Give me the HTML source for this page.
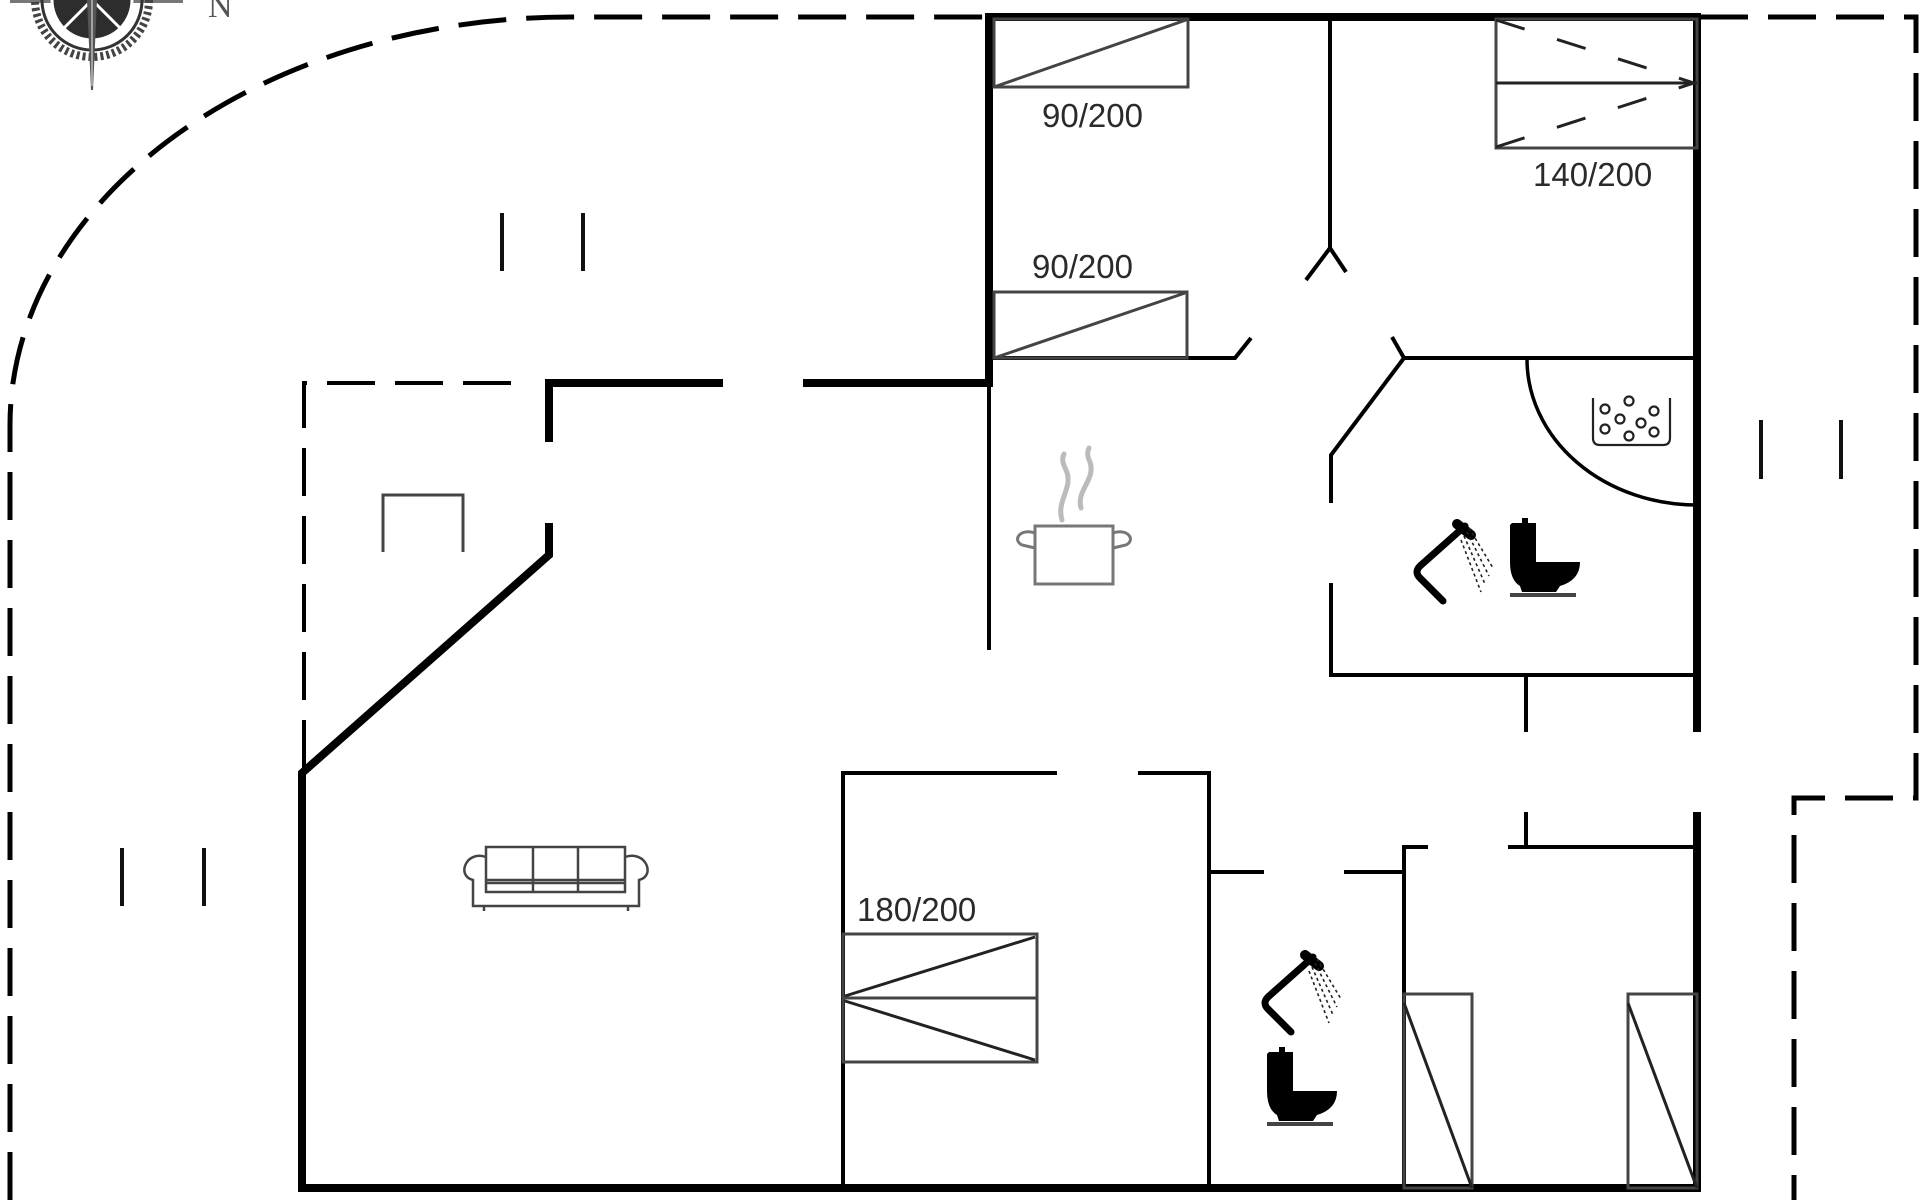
<!DOCTYPE html>
<html>
<head>
<meta charset="utf-8">
<style>
  html,body{margin:0;padding:0;background:#fff;}
  svg{display:block;}
  .lbl{font-family:"Liberation Sans",Arial,sans-serif;font-size:33px;fill:#2a2a2a;}
</style>
</head>
<body>
<svg width="1920" height="1200" viewBox="0 0 1920 1200" xmlns="http://www.w3.org/2000/svg">
  <rect width="1920" height="1200" fill="#fff"/>

  <!-- compass (partially cut off at top) -->
  <g>
    <line x1="10" y1="1" x2="183" y2="1" stroke="#777" stroke-width="4"/>
    <circle cx="92" cy="0" r="57" fill="none" stroke="#444" stroke-width="8" stroke-dasharray="3 3"/>
    <circle cx="92" cy="0" r="50" fill="none" stroke="#333" stroke-width="3"/>
    <circle cx="92" cy="0" r="40" fill="#2d2d2d"/>
    <circle cx="92" cy="0" r="40" fill="none" stroke="#fff" stroke-width="3"/>
    <line x1="92" y1="0" x2="62" y2="30" stroke="#fff" stroke-width="3"/>
    <line x1="92" y1="0" x2="122" y2="30" stroke="#fff" stroke-width="3"/>
    <polygon points="87,0 97,0 93,90 91,90" fill="#555"/>
    <line x1="92" y1="0" x2="92" y2="86" stroke="#eee" stroke-width="1"/>
    <text x="208" y="17" font-family="'Liberation Serif',serif" font-size="34" fill="#555">N</text>
  </g>

  <!-- plot boundary dashed -->
  <g fill="none" stroke="#000" stroke-width="5" stroke-dasharray="48 20">
    <path d="M10,1200 L10,425 A560,408 0 0 1 570,17 L984,17"/>
    <path d="M1700,17 L1916,17 L1916,798 L1794,798 L1794,1200"/>
    <path d="M304,768 L304,383 L526,383" stroke-width="4"/>
  </g>

  <!-- window markers -->
  <g stroke="#111" stroke-width="4">
    <line x1="502" y1="213" x2="502" y2="271"/>
    <line x1="583" y1="213" x2="583" y2="271"/>
    <line x1="1761" y1="420" x2="1761" y2="479"/>
    <line x1="1841" y1="420" x2="1841" y2="479"/>
    <line x1="122" y1="848" x2="122" y2="906"/>
    <line x1="204" y1="848" x2="204" y2="906"/>
  </g>

  <!-- thick outer walls -->
  <g fill="none" stroke="#000" stroke-width="8" stroke-linejoin="miter" stroke-linecap="butt">
    <path d="M302,1192 L302,773 L549,555 L549,523"/>
    <path d="M549,442 L549,383 L723,383"/>
    <path d="M803,383 L989,383 L989,17 L1697,17 L1697,732"/>
    <path d="M1697,812 L1697,1188 L298,1188"/>
  </g>

  <!-- thin inner walls -->
  <g fill="none" stroke="#000" stroke-width="4" stroke-linejoin="miter">
    <path d="M989,383 L989,650"/>
    <path d="M989,358 L1235,358 L1251,338"/>
    <path d="M1330,17 L1330,248"/>
    <path d="M1330,248 L1306,280"/>
    <path d="M1330,248 L1346,272"/>
    <path d="M1392,337 L1404,358 L1697,358"/>
    <path d="M1404,358 L1331,455 L1331,503"/>
    <path d="M1331,583 L1331,675 L1697,675"/>
    <path d="M1526,675 L1526,732"/>
    <path d="M1526,812 L1526,847"/>
    <path d="M1508,847 L1697,847"/>
    <path d="M1428,847 L1404,847 L1404,1188"/>
    <path d="M1209,872 L1264,872"/>
    <path d="M1344,872 L1404,872"/>
    <path d="M843,1188 L843,773 L1057,773"/>
    <path d="M1138,773 L1209,773 L1209,1188"/>
    <path d="M1527,359 A170,146 0 0 0 1697,505" stroke-width="3.5"/>
  </g>

  <!-- fireplace / small unit -->
  <path d="M383,552 L383,495 L463,495 L463,552" fill="none" stroke="#444" stroke-width="3"/>

  <!-- beds -->
  <g fill="none" stroke="#444" stroke-width="3">
    <rect x="994" y="19" width="194" height="68"/>
    <line x1="994" y1="87" x2="1186" y2="20"/>
    <rect x="994" y="292" width="193" height="66"/>
    <line x1="994" y1="358" x2="1185" y2="293"/>
    <rect x="1496" y="19" width="201" height="129"/>
    <line x1="1496" y1="83" x2="1697" y2="83" stroke="#222"/>
    <line x1="1496" y1="20" x2="1694" y2="83" stroke="#222" stroke-dasharray="30 34"/>
    <line x1="1496" y1="147" x2="1694" y2="83" stroke="#222" stroke-dasharray="30 34"/>
    <rect x="843" y="934" width="194" height="128"/>
    <line x1="843" y1="998" x2="1037" y2="998"/>
    <line x1="1035" y1="937" x2="845" y2="996" stroke="#222"/>
    <line x1="845" y1="1001" x2="1035" y2="1060" stroke="#222"/>
    <rect x="1404" y="994" width="68" height="194"/>
    <line x1="1404" y1="1003" x2="1472" y2="1188" stroke="#222"/>
    <rect x="1628" y="994" width="69" height="194"/>
    <line x1="1628" y1="1003" x2="1697" y2="1188" stroke="#222"/>
  </g>

  <!-- labels -->
  <text class="lbl" x="1042" y="127">90/200</text>
  <text class="lbl" x="1032" y="278">90/200</text>
  <text class="lbl" x="1533" y="186">140/200</text>
  <text class="lbl" x="857" y="921">180/200</text>

  <!-- cooking pot -->
  <g fill="none" stroke="#777" stroke-width="3">
    <rect x="1035" y="526" width="78" height="58"/>
    <path d="M1035,533 C1020,528 1012,540 1022,545 L1035,548"/>
    <path d="M1113,533 C1128,528 1136,540 1126,545 L1113,548"/>
  </g>
  <g fill="none" stroke="#bbb" stroke-width="5" stroke-linecap="round">
    <path d="M1062,520 C1056,500 1074,488 1066,470 C1062,462 1062,458 1064,454"/>
    <path d="M1081,508 C1076,490 1096,480 1090,462 C1087,456 1087,452 1089,448"/>
  </g>

  <!-- sofa -->
  <g fill="none" stroke="#444" stroke-width="2.5">
    <rect x="486" y="847" width="139" height="45"/>
    <line x1="533" y1="847" x2="533" y2="892"/>
    <line x1="578" y1="847" x2="578" y2="892"/>
    <line x1="486" y1="883" x2="625" y2="883"/>
    <path d="M486,857 C466,850 456,876 473,880 L473,906 L639,906 L639,880 C656,876 646,850 625,857"/>
    <line x1="486" y1="880" x2="625" y2="880"/>
    <line x1="484" y1="906" x2="484" y2="911"/>
    <line x1="628" y1="906" x2="628" y2="911"/>
  </g>

  <!-- sauna stones -->
  <g fill="none" stroke="#222" stroke-width="2.2">
    <path d="M1593,398 L1593,438 Q1593,445 1600,445 L1663,445 Q1670,445 1670,438 L1670,398"/>
    <circle cx="1629" cy="401" r="4.5"/>
    <circle cx="1605" cy="409" r="4.5"/>
    <circle cx="1654" cy="411" r="4.5"/>
    <circle cx="1620" cy="419" r="4.5"/>
    <circle cx="1641" cy="423" r="4.5"/>
    <circle cx="1605" cy="429" r="4.5"/>
    <circle cx="1654" cy="432" r="4.5"/>
    <circle cx="1629" cy="436" r="4.5"/>
  </g>

  <!-- shower symbol -->
  <defs>
    <g id="shower">
      <path d="M54,8 L9,48 Q3,54 9,60 L32,83" fill="none" stroke="#000" stroke-width="7" stroke-linejoin="round" stroke-linecap="round"/>
      <line x1="46" y1="6" x2="60" y2="17" stroke="#000" stroke-width="10" stroke-linecap="round"/>
      <g stroke="#222" stroke-width="1.6" stroke-dasharray="3 3">
        <line x1="58" y1="10" x2="82" y2="50"/>
        <line x1="56" y1="14" x2="78" y2="58"/>
        <line x1="53" y1="18" x2="74" y2="66"/>
        <line x1="50" y1="22" x2="70" y2="74"/>
      </g>
    </g>
    <g id="toilet">
      <rect x="12" y="0" width="6" height="6" fill="#000"/>
      <path d="M2,5 L26,5 L26,44 L70,44 Q70,62 50,68 L46,74 L12,74 L10,68 Q0,62 0,44 L0,7 Z" fill="#000"/>
      <rect x="0" y="75" width="66" height="4" fill="#444"/>
    </g>
  </defs>
  <use href="#shower" x="1411" y="518"/>
  <use href="#toilet" x="1510" y="518"/>
  <use href="#shower" x="1259" y="949"/>
  <use href="#toilet" x="1267" y="1047"/>
</svg>
</body>
</html>
